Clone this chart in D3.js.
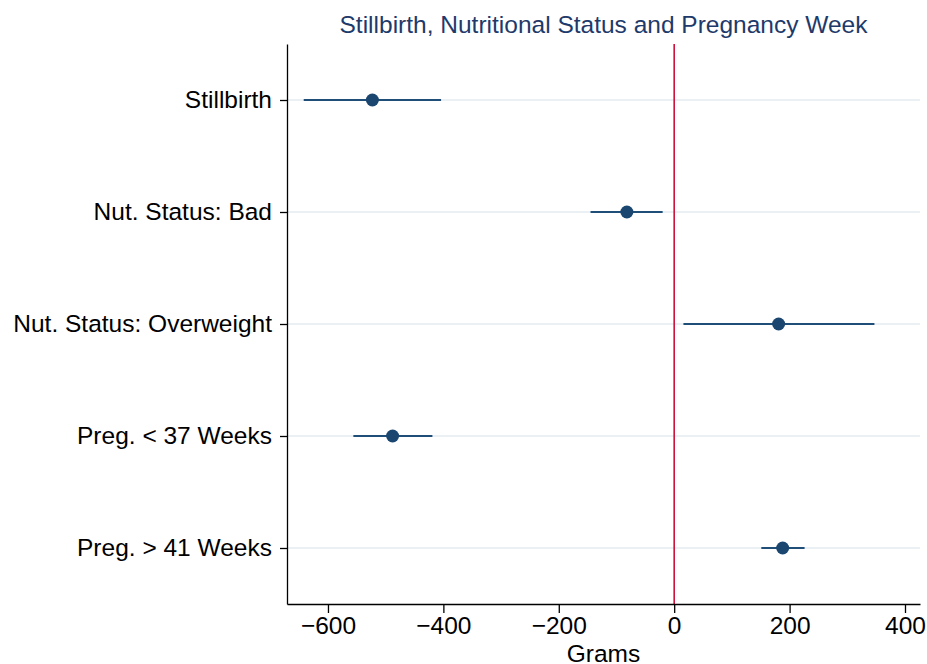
<!DOCTYPE html>
<html><head><meta charset="utf-8">
<script src="https://cdn.jsdelivr.net/npm/d3@7"></script>
<style>body{margin:0;background:#fff}svg{display:block}text{font-family:"Liberation Sans",Arial,sans-serif}</style>
</head><body>
<script>
const categories = ["Stillbirth","Nut. Status: Bad","Nut. Status: Overweight","Preg. < 37 Weeks","Preg. > 41 Weeks"];
const estimates = [-523, -82, 181, -488, 188];
const lower = [-642, -145, 16, -556, 151];
const upper = [-404, -20, 347, -419, 226];
const xTicks = [-600,-400,-200,0,200,400];
const title = "Stillbirth, Nutritional Status and Pregnancy Week";
const xTitle = "Grams";

const W = 927, H = 664, FS = 24.5;
const m = {left: 287, right: 7, top: 44, bottom: 60};
const svg = d3.select("body").append("svg").attr("width", W).attr("height", H);
const x = d3.scaleLinear().domain([-671, 426]).range([m.left, W - m.right]);
const y = d3.scalePoint().domain(categories).range([m.top, H - m.bottom]).padding(0.5);

// gridlines
svg.append("g").selectAll("line").data(categories).join("line")
  .attr("x1", m.left).attr("x2", W - m.right)
  .attr("y1", d => y(d)).attr("y2", d => y(d))
  .attr("stroke", "#eaf0f4").attr("stroke-width", 2);

// reference line
svg.append("line").attr("x1", x(0)).attr("x2", x(0)).attr("y1", m.top).attr("y2", H - m.bottom)
  .attr("stroke", "#d0103a").attr("stroke-width", 1.6);

// axes
const xa = svg.append("g").attr("transform", `translate(0,${H - m.bottom})`)
  .call(d3.axisBottom(x).tickValues(xTicks).tickSizeInner(9).tickSizeOuter(0).tickPadding(4)
    .tickFormat(d => d < 0 ? "\u2212" + Math.abs(d) : d));
xa.selectAll("text").attr("font-size", FS).attr("fill", "#000").attr("font-family", '"Liberation Sans",Arial,sans-serif');
xa.selectAll("line,path").attr("stroke", "#000").attr("stroke-width", 1.3);

const ya = svg.append("g").attr("transform", `translate(${m.left},0)`)
  .call(d3.axisLeft(y).tickSizeInner(7).tickSizeOuter(0).tickPadding(8));
ya.selectAll("text").attr("font-size", FS).attr("fill", "#000").attr("font-family", '"Liberation Sans",Arial,sans-serif');
ya.selectAll("line,path").attr("stroke", "#000").attr("stroke-width", 1.3);

// CIs
svg.append("g").selectAll("line").data(categories).join("line")
  .attr("x1", (d,i) => x(lower[i])).attr("x2", (d,i) => x(upper[i]))
  .attr("y1", d => y(d)).attr("y2", d => y(d))
  .attr("stroke", "#1f4e79").attr("stroke-width", 2.2);
svg.append("g").selectAll("circle").data(categories).join("circle")
  .attr("cx", (d,i) => x(estimates[i])).attr("cy", d => y(d)).attr("r", 6.5)
  .attr("fill", "#1a4670");

svg.append("text").attr("x", (m.left + W - m.right)/2).attr("y", 33).attr("text-anchor", "middle")
  .attr("font-size", FS).attr("fill", "#1e3a6b").text(title);
svg.append("text").attr("x", (m.left + W - m.right)/2).attr("y", 662).attr("text-anchor", "middle")
  .attr("font-size", FS).attr("fill", "#000").text(xTitle);
</script>
</body></html>
